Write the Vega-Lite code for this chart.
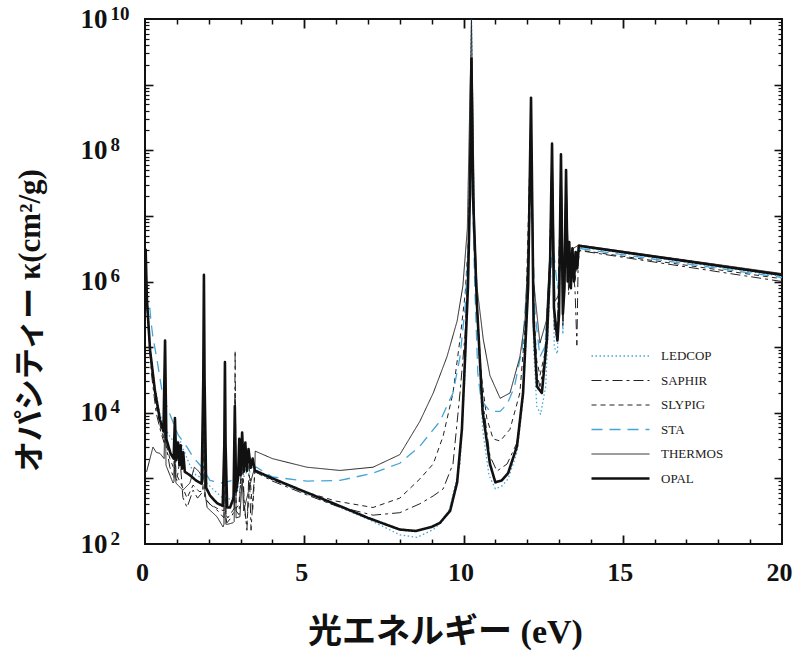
{
  "$schema": "https://vega.github.io/schema/vega-lite/v6.json",
  "width": 637,
  "height": 525,
  "autosize": {"type": "none"},
  "padding": {"left": 145, "top": 19, "right": 12, "bottom": 112},
  "background": "white",
  "config": {
    "view": {"stroke": "#111", "strokeWidth": 2},
    "axis": {"labelColor": "#111", "titleColor": "#111", "tickColor": "#111", "grid": false, "domain": false},
    "legend": {"orient": "none", "legendX": 445, "legendY": 329, "title": null, "symbolType": "stroke", "symbolSize": 3364, "clipHeight": 16,
      "labelFont": "Liberation Serif", "labelFontSize": 13, "labelColor": "#222", "labelOffset": 10, "rowPadding": 8.5}
  },
  "datasets": {
    "anchor": [{"x": 0, "y": 100}],
    "curves": [
      {"m":"LEDCOP","x":0.02,"y":2.0e6},{"m":"LEDCOP","x":0.16,"y":1.0e5},{"m":"LEDCOP","x":0.31,"y":2.5e4},{"m":"LEDCOP","x":0.47,"y":9.5e3},{"m":"LEDCOP","x":0.6,"y":6.0e3},{"m":"LEDCOP","x":0.63,"y":4.0e4},{"m":"LEDCOP","x":0.66,"y":5.5e3},{"m":"LEDCOP","x":0.8,"y":4.2e3},{"m":"LEDCOP","x":0.94,"y":3.5e3},{"m":"LEDCOP","x":1.1,"y":3.8e3},{"m":"LEDCOP","x":1.2,"y":2.8e3},{"m":"LEDCOP","x":1.41,"y":1.58e3},{"m":"LEDCOP","x":1.6,"y":1.12e3},{"m":"LEDCOP","x":1.82,"y":1.0e3},{"m":"LEDCOP","x":1.85,"y":1.0e6},{"m":"LEDCOP","x":1.88,"y":9.0e2},{"m":"LEDCOP","x":2.1,"y":7.1e2},{"m":"LEDCOP","x":2.4,"y":5.2e2},{"m":"LEDCOP","x":2.48,"y":5.0e2},{"m":"LEDCOP","x":2.51,"y":4.0e4},{"m":"LEDCOP","x":2.54,"y":5.0e2},{"m":"LEDCOP","x":2.7,"y":4.8e2},{"m":"LEDCOP","x":2.8,"y":5.6e2},{"m":"LEDCOP","x":2.83,"y":1.0e4},{"m":"LEDCOP","x":2.86,"y":5.6e2},{"m":"LEDCOP","x":3.0,"y":8.9e2},{"m":"LEDCOP","x":3.2,"y":1.26e3},{"m":"LEDCOP","x":3.45,"y":1.26e3},{"m":"LEDCOP","x":4.0,"y":9.5e2},{"m":"LEDCOP","x":5.0,"y":6.0e2},{"m":"LEDCOP","x":6.0,"y":3.8e2},{"m":"LEDCOP","x":7.0,"y":2.4e2},{"m":"LEDCOP","x":8.0,"y":1.38e2},{"m":"LEDCOP","x":8.54,"y":1.26e2},{"m":"LEDCOP","x":9.05,"y":1.66e2},{"m":"LEDCOP","x":9.4,"y":2.4e2},{"m":"LEDCOP","x":9.58,"y":3.6e2},{"m":"LEDCOP","x":9.89,"y":1.66e3},{"m":"LEDCOP","x":10.05,"y":4.0e4},{"m":"LEDCOP","x":10.15,"y":1.58e6},{"m":"LEDCOP","x":10.25,"y":1.0e10},{"m":"LEDCOP","x":10.35,"y":2.5e6},{"m":"LEDCOP","x":10.6,"y":5.6e3},{"m":"LEDCOP","x":10.8,"y":1.12e3},{"m":"LEDCOP","x":11.0,"y":6.9e2},{"m":"LEDCOP","x":11.2,"y":7.6e2},{"m":"LEDCOP","x":11.4,"y":9.8e2},{"m":"LEDCOP","x":11.68,"y":2.5e3},{"m":"LEDCOP","x":11.87,"y":1.58e4},{"m":"LEDCOP","x":12.03,"y":6.3e5},{"m":"LEDCOP","x":12.12,"y":5.0e8},{"m":"LEDCOP","x":12.2,"y":1.0e5},{"m":"LEDCOP","x":12.3,"y":1.26e4},{"m":"LEDCOP","x":12.42,"y":9.5e3},{"m":"LEDCOP","x":12.58,"y":2.5e4},{"m":"LEDCOP","x":12.72,"y":1.0e6},{"m":"LEDCOP","x":12.78,"y":1.0e8},{"m":"LEDCOP","x":12.85,"y":1.0e5},{"m":"LEDCOP","x":12.95,"y":7.9e4},{"m":"LEDCOP","x":13.06,"y":6.3e7},{"m":"LEDCOP","x":13.12,"y":1.58e5},{"m":"LEDCOP","x":13.22,"y":3.2e7},{"m":"LEDCOP","x":13.3,"y":1.0e6},{"m":"LEDCOP","x":13.45,"y":2.0e6},{"m":"LEDCOP","x":13.62,"y":3.4e6},{"m":"LEDCOP","x":20,"y":1.2e6},

      {"m":"SAPHIR","x":0.02,"y":1.58e6},{"m":"SAPHIR","x":0.1,"y":2.5e5},{"m":"SAPHIR","x":0.2,"y":4.0e4},{"m":"SAPHIR","x":0.35,"y":1.0e4},{"m":"SAPHIR","x":0.5,"y":5.0e3},{"m":"SAPHIR","x":0.6,"y":3.5e3},{"m":"SAPHIR","x":0.63,"y":6.3e4},{"m":"SAPHIR","x":0.66,"y":3.2e3},{"m":"SAPHIR","x":0.78,"y":1.48e3},{"m":"SAPHIR","x":0.91,"y":1.0e3},{"m":"SAPHIR","x":0.94,"y":5.0e3},{"m":"SAPHIR","x":0.97,"y":1.0e3},{"m":"SAPHIR","x":1.0,"y":9.3e2},{"m":"SAPHIR","x":1.1,"y":2.0e3},{"m":"SAPHIR","x":1.19,"y":5.1e2},{"m":"SAPHIR","x":1.32,"y":3.6e2},{"m":"SAPHIR","x":1.51,"y":6.6e2},{"m":"SAPHIR","x":1.65,"y":5.0e2},{"m":"SAPHIR","x":1.82,"y":6.3e2},{"m":"SAPHIR","x":1.85,"y":1.0e6},{"m":"SAPHIR","x":1.88,"y":5.0e2},{"m":"SAPHIR","x":2.0,"y":4.2e2},{"m":"SAPHIR","x":2.26,"y":3.3e2},{"m":"SAPHIR","x":2.48,"y":2.5e2},{"m":"SAPHIR","x":2.51,"y":4.0e4},{"m":"SAPHIR","x":2.54,"y":2.5e2},{"m":"SAPHIR","x":2.57,"y":2.1e2},{"m":"SAPHIR","x":2.7,"y":2.5e2},{"m":"SAPHIR","x":2.8,"y":3.2e2},{"m":"SAPHIR","x":2.83,"y":8.9e4},{"m":"SAPHIR","x":2.86,"y":3.2e2},{"m":"SAPHIR","x":2.95,"y":2.8e2},{"m":"SAPHIR","x":3.05,"y":2.5e3},{"m":"SAPHIR","x":3.12,"y":4.0e2},{"m":"SAPHIR","x":3.2,"y":1.62e2},{"m":"SAPHIR","x":3.27,"y":1.58e3},{"m":"SAPHIR","x":3.33,"y":1.62e2},{"m":"SAPHIR","x":3.4,"y":6.3e2},{"m":"SAPHIR","x":3.45,"y":1.26e3},{"m":"SAPHIR","x":4.0,"y":9.1e2},{"m":"SAPHIR","x":5.0,"y":5.8e2},{"m":"SAPHIR","x":6.0,"y":3.8e2},{"m":"SAPHIR","x":7.16,"y":2.75e2},{"m":"SAPHIR","x":8.0,"y":3.0e2},{"m":"SAPHIR","x":8.63,"y":4.1e2},{"m":"SAPHIR","x":9.05,"y":5.4e2},{"m":"SAPHIR","x":9.36,"y":6.9e2},{"m":"SAPHIR","x":9.67,"y":1.66e3},{"m":"SAPHIR","x":9.89,"y":2.0e4},{"m":"SAPHIR","x":10.05,"y":1.58e5},{"m":"SAPHIR","x":10.15,"y":2.0e6},{"m":"SAPHIR","x":10.25,"y":1.0e9},{"m":"SAPHIR","x":10.35,"y":2.0e6},{"m":"SAPHIR","x":10.6,"y":1.58e4},{"m":"SAPHIR","x":10.83,"y":2.2e3},{"m":"SAPHIR","x":11.05,"y":1.29e3},{"m":"SAPHIR","x":11.37,"y":1.66e3},{"m":"SAPHIR","x":11.68,"y":3.5e3},{"m":"SAPHIR","x":11.87,"y":2.0e4},{"m":"SAPHIR","x":12.03,"y":7.9e5},{"m":"SAPHIR","x":12.12,"y":4.0e8},{"m":"SAPHIR","x":12.2,"y":3.2e5},{"m":"SAPHIR","x":12.3,"y":4.0e4},{"m":"SAPHIR","x":12.4,"y":2.5e4},{"m":"SAPHIR","x":12.55,"y":6.3e4},{"m":"SAPHIR","x":12.7,"y":1.58e6},{"m":"SAPHIR","x":12.78,"y":1.12e8},{"m":"SAPHIR","x":12.85,"y":2.0e5},{"m":"SAPHIR","x":12.95,"y":1.26e5},{"m":"SAPHIR","x":13.06,"y":7.9e7},{"m":"SAPHIR","x":13.12,"y":2.0e5},{"m":"SAPHIR","x":13.22,"y":4.0e7},{"m":"SAPHIR","x":13.3,"y":6.3e5},{"m":"SAPHIR","x":13.4,"y":2.0e6},{"m":"SAPHIR","x":13.5,"y":7.9e5},{"m":"SAPHIR","x":13.56,"y":1.07e5},{"m":"SAPHIR","x":13.6,"y":2.0e6},{"m":"SAPHIR","x":13.65,"y":2.95e6},{"m":"SAPHIR","x":20,"y":1.0e6},

      {"m":"SLYPIG","x":0.02,"y":1.0e6},{"m":"SLYPIG","x":0.1,"y":2.0e5},{"m":"SLYPIG","x":0.2,"y":5.0e4},{"m":"SLYPIG","x":0.35,"y":1.26e4},{"m":"SLYPIG","x":0.5,"y":5.6e3},{"m":"SLYPIG","x":0.6,"y":4.0e3},{"m":"SLYPIG","x":0.63,"y":4.0e4},{"m":"SLYPIG","x":0.66,"y":3.5e3},{"m":"SLYPIG","x":0.78,"y":2.0e3},{"m":"SLYPIG","x":0.91,"y":1.4e3},{"m":"SLYPIG","x":0.94,"y":6.3e3},{"m":"SLYPIG","x":0.97,"y":1.26e3},{"m":"SLYPIG","x":1.0,"y":1.12e3},{"m":"SLYPIG","x":1.19,"y":7.1e2},{"m":"SLYPIG","x":1.32,"y":5.0e2},{"m":"SLYPIG","x":1.51,"y":7.9e2},{"m":"SLYPIG","x":1.7,"y":6.3e2},{"m":"SLYPIG","x":1.82,"y":6.3e2},{"m":"SLYPIG","x":1.85,"y":7.9e5},{"m":"SLYPIG","x":1.88,"y":5.0e2},{"m":"SLYPIG","x":2.05,"y":4.0e2},{"m":"SLYPIG","x":2.26,"y":3.5e2},{"m":"SLYPIG","x":2.48,"y":3.2e2},{"m":"SLYPIG","x":2.51,"y":3.2e4},{"m":"SLYPIG","x":2.54,"y":2.8e2},{"m":"SLYPIG","x":2.6,"y":2.5e2},{"m":"SLYPIG","x":2.75,"y":3.2e2},{"m":"SLYPIG","x":2.8,"y":3.5e2},{"m":"SLYPIG","x":2.83,"y":2.0e4},{"m":"SLYPIG","x":2.86,"y":3.5e2},{"m":"SLYPIG","x":2.95,"y":4.0e2},{"m":"SLYPIG","x":3.05,"y":2.0e3},{"m":"SLYPIG","x":3.12,"y":3.2e2},{"m":"SLYPIG","x":3.2,"y":2.0e2},{"m":"SLYPIG","x":3.3,"y":1.0e3},{"m":"SLYPIG","x":3.38,"y":3.2e2},{"m":"SLYPIG","x":3.45,"y":1.32e3},{"m":"SLYPIG","x":4.0,"y":9.5e2},{"m":"SLYPIG","x":5.0,"y":6.3e2},{"m":"SLYPIG","x":6.0,"y":4.5e2},{"m":"SLYPIG","x":7.16,"y":3.6e2},{"m":"SLYPIG","x":8.0,"y":5.0e2},{"m":"SLYPIG","x":8.63,"y":9.8e2},{"m":"SLYPIG","x":9.05,"y":1.66e3},{"m":"SLYPIG","x":9.36,"y":4.4e3},{"m":"SLYPIG","x":9.67,"y":2.0e4},{"m":"SLYPIG","x":9.89,"y":1.32e5},{"m":"SLYPIG","x":10.05,"y":6.3e5},{"m":"SLYPIG","x":10.15,"y":4.0e6},{"m":"SLYPIG","x":10.25,"y":6.3e8},{"m":"SLYPIG","x":10.35,"y":4.0e6},{"m":"SLYPIG","x":10.5,"y":6.3e4},{"m":"SLYPIG","x":10.73,"y":8.3e3},{"m":"SLYPIG","x":10.93,"y":4.0e3},{"m":"SLYPIG","x":11.15,"y":3.7e3},{"m":"SLYPIG","x":11.46,"y":5.6e3},{"m":"SLYPIG","x":11.77,"y":2.0e4},{"m":"SLYPIG","x":11.95,"y":2.5e5},{"m":"SLYPIG","x":12.12,"y":3.2e8},{"m":"SLYPIG","x":12.2,"y":4.0e5},{"m":"SLYPIG","x":12.3,"y":6.3e4},{"m":"SLYPIG","x":12.4,"y":3.7e4},{"m":"SLYPIG","x":12.55,"y":7.9e4},{"m":"SLYPIG","x":12.7,"y":1.58e6},{"m":"SLYPIG","x":12.78,"y":7.9e7},{"m":"SLYPIG","x":12.85,"y":2.5e5},{"m":"SLYPIG","x":12.95,"y":1.58e5},{"m":"SLYPIG","x":13.06,"y":5.0e7},{"m":"SLYPIG","x":13.12,"y":2.5e5},{"m":"SLYPIG","x":13.22,"y":3.2e7},{"m":"SLYPIG","x":13.3,"y":7.9e5},{"m":"SLYPIG","x":13.4,"y":1.58e6},{"m":"SLYPIG","x":13.5,"y":1.0e6},{"m":"SLYPIG","x":13.6,"y":2.8e6},{"m":"SLYPIG","x":13.65,"y":3.0e6},{"m":"SLYPIG","x":20,"y":1.1e6},

      {"m":"STA","x":0.15,"y":4.0e5},{"m":"STA","x":0.19,"y":2.4e5},{"m":"STA","x":0.25,"y":1.41e5},{"m":"STA","x":0.38,"y":6.3e4},{"m":"STA","x":0.53,"y":2.2e4},{"m":"STA","x":0.69,"y":1.23e4},{"m":"STA","x":0.85,"y":7.8e3},{"m":"STA","x":1.04,"y":4.6e3},{"m":"STA","x":1.32,"y":3.0e3},{"m":"STA","x":1.51,"y":2.1e3},{"m":"STA","x":1.79,"y":1.48e3},{"m":"STA","x":2.04,"y":9.3e2},{"m":"STA","x":2.42,"y":8.5e2},{"m":"STA","x":2.73,"y":9.3e2},{"m":"STA","x":2.98,"y":1.23e3},{"m":"STA","x":3.3,"y":1.45e3},{"m":"STA","x":3.5,"y":1.48e3},{"m":"STA","x":4.0,"y":1.05e3},{"m":"STA","x":5.08,"y":9.1e2},{"m":"STA","x":6.12,"y":9.3e2},{"m":"STA","x":7.16,"y":1.2e3},{"m":"STA","x":8.0,"y":1.7e3},{"m":"STA","x":8.63,"y":3.1e3},{"m":"STA","x":9.26,"y":7.4e3},{"m":"STA","x":9.67,"y":2.0e4},{"m":"STA","x":9.89,"y":7.1e4},{"m":"STA","x":10.05,"y":4.0e5},{"m":"STA","x":10.15,"y":3.2e6},{"m":"STA","x":10.25,"y":1.0e8},{"m":"STA","x":10.35,"y":1.0e6},{"m":"STA","x":10.45,"y":4.0e4},{"m":"STA","x":10.55,"y":1.58e4},{"m":"STA","x":10.83,"y":1.05e4},{"m":"STA","x":11.15,"y":1.05e4},{"m":"STA","x":11.37,"y":1.35e4},{"m":"STA","x":11.6,"y":2.5e4},{"m":"STA","x":11.85,"y":1.0e5},{"m":"STA","x":12.0,"y":1.0e6},{"m":"STA","x":12.12,"y":3.2e7},{"m":"STA","x":12.25,"y":3.2e5},{"m":"STA","x":12.4,"y":7.1e4},{"m":"STA","x":12.55,"y":1.0e5},{"m":"STA","x":12.7,"y":6.3e5},{"m":"STA","x":12.8,"y":4.0e6},{"m":"STA","x":12.95,"y":7.9e5},{"m":"STA","x":13.1,"y":2.5e6},{"m":"STA","x":13.25,"y":1.58e6},{"m":"STA","x":13.45,"y":2.5e6},{"m":"STA","x":13.62,"y":3.2e6},{"m":"STA","x":20,"y":1.15e6},

      {"m":"THERMOS","x":0.05,"y":1.26e3},{"m":"THERMOS","x":0.25,"y":3.0e3},{"m":"THERMOS","x":0.35,"y":2.5e3},{"m":"THERMOS","x":0.47,"y":2.4e3},{"m":"THERMOS","x":0.6,"y":2.0e3},{"m":"THERMOS","x":0.63,"y":1.58e4},{"m":"THERMOS","x":0.66,"y":1.58e3},{"m":"THERMOS","x":0.88,"y":8.5e2},{"m":"THERMOS","x":0.91,"y":9.0e2},{"m":"THERMOS","x":0.94,"y":2.5e3},{"m":"THERMOS","x":0.97,"y":8.5e2},{"m":"THERMOS","x":1.19,"y":6.6e2},{"m":"THERMOS","x":1.41,"y":8.5e2},{"m":"THERMOS","x":1.55,"y":1.48e3},{"m":"THERMOS","x":1.7,"y":1.26e3},{"m":"THERMOS","x":1.82,"y":1.0e3},{"m":"THERMOS","x":1.85,"y":3.2e5},{"m":"THERMOS","x":1.88,"y":6.3e2},{"m":"THERMOS","x":1.95,"y":3.6e2},{"m":"THERMOS","x":2.26,"y":2.6e2},{"m":"THERMOS","x":2.45,"y":1.82e2},{"m":"THERMOS","x":2.48,"y":2.0e2},{"m":"THERMOS","x":2.51,"y":2.0e4},{"m":"THERMOS","x":2.54,"y":2.0e2},{"m":"THERMOS","x":2.6,"y":2.0e2},{"m":"THERMOS","x":2.76,"y":2.1e2},{"m":"THERMOS","x":2.8,"y":2.2e2},{"m":"THERMOS","x":2.83,"y":1.0e4},{"m":"THERMOS","x":2.86,"y":2.5e2},{"m":"THERMOS","x":2.98,"y":2.6e2},{"m":"THERMOS","x":3.05,"y":1.0e3},{"m":"THERMOS","x":3.1,"y":3.2e2},{"m":"THERMOS","x":3.2,"y":5.1e2},{"m":"THERMOS","x":3.36,"y":1.05e3},{"m":"THERMOS","x":3.45,"y":1.48e3},{"m":"THERMOS","x":3.46,"y":2.6e3},{"m":"THERMOS","x":4.0,"y":2.0e3},{"m":"THERMOS","x":5.08,"y":1.48e3},{"m":"THERMOS","x":6.12,"y":1.32e3},{"m":"THERMOS","x":7.16,"y":1.48e3},{"m":"THERMOS","x":8.0,"y":2.3e3},{"m":"THERMOS","x":8.63,"y":7.4e3},{"m":"THERMOS","x":9.05,"y":2.0e4},{"m":"THERMOS","x":9.48,"y":7.1e4},{"m":"THERMOS","x":9.8,"y":2.5e5},{"m":"THERMOS","x":9.98,"y":8.5e5},{"m":"THERMOS","x":10.12,"y":6.3e6},{"m":"THERMOS","x":10.25,"y":1.0e10},{"m":"THERMOS","x":10.35,"y":6.3e6},{"m":"THERMOS","x":10.42,"y":8.5e5},{"m":"THERMOS","x":10.62,"y":1.32e5},{"m":"THERMOS","x":10.83,"y":3.7e4},{"m":"THERMOS","x":11.15,"y":1.66e4},{"m":"THERMOS","x":11.46,"y":2.0e4},{"m":"THERMOS","x":11.77,"y":7.1e4},{"m":"THERMOS","x":11.93,"y":2.5e5},{"m":"THERMOS","x":12.03,"y":3.0e6},{"m":"THERMOS","x":12.12,"y":6.3e8},{"m":"THERMOS","x":12.2,"y":1.0e6},{"m":"THERMOS","x":12.4,"y":1.15e5},{"m":"THERMOS","x":12.6,"y":2.5e5},{"m":"THERMOS","x":12.72,"y":3.2e6},{"m":"THERMOS","x":12.78,"y":1.26e8},{"m":"THERMOS","x":12.87,"y":5.0e5},{"m":"THERMOS","x":13.0,"y":6.3e5},{"m":"THERMOS","x":13.06,"y":7.9e7},{"m":"THERMOS","x":13.14,"y":7.9e5},{"m":"THERMOS","x":13.22,"y":4.0e7},{"m":"THERMOS","x":13.3,"y":1.58e6},{"m":"THERMOS","x":13.45,"y":3.2e6},{"m":"THERMOS","x":13.62,"y":3.6e6},{"m":"THERMOS","x":20,"y":1.32e6},

      {"m":"OPAL","x":0.02,"y":3.16e6},{"m":"OPAL","x":0.06,"y":5.25e5},{"m":"OPAL","x":0.16,"y":8.9e4},{"m":"OPAL","x":0.31,"y":2.19e4},{"m":"OPAL","x":0.47,"y":7.8e3},{"m":"OPAL","x":0.58,"y":5.2e3},{"m":"OPAL","x":0.63,"y":1.26e5},{"m":"OPAL","x":0.67,"y":4.0e3},{"m":"OPAL","x":0.8,"y":2.4e3},{"m":"OPAL","x":0.9,"y":2.0e3},{"m":"OPAL","x":0.94,"y":8.3e3},{"m":"OPAL","x":0.98,"y":1.9e3},{"m":"OPAL","x":1.04,"y":3.5e3},{"m":"OPAL","x":1.08,"y":1.6e3},{"m":"OPAL","x":1.12,"y":3.2e3},{"m":"OPAL","x":1.16,"y":1.4e3},{"m":"OPAL","x":1.2,"y":2.5e3},{"m":"OPAL","x":1.25,"y":1.26e3},{"m":"OPAL","x":1.41,"y":1.12e3},{"m":"OPAL","x":1.6,"y":9.3e2},{"m":"OPAL","x":1.78,"y":8.3e2},{"m":"OPAL","x":1.83,"y":3.2e4},{"m":"OPAL","x":1.85,"y":1.26e6},{"m":"OPAL","x":1.87,"y":3.2e4},{"m":"OPAL","x":1.92,"y":7.2e2},{"m":"OPAL","x":2.04,"y":5.5e2},{"m":"OPAL","x":2.26,"y":4.2e2},{"m":"OPAL","x":2.44,"y":3.8e2},{"m":"OPAL","x":2.49,"y":3.2e3},{"m":"OPAL","x":2.51,"y":5.9e4},{"m":"OPAL","x":2.53,"y":3.2e3},{"m":"OPAL","x":2.58,"y":3.6e2},{"m":"OPAL","x":2.67,"y":3.6e2},{"m":"OPAL","x":2.78,"y":5.0e2},{"m":"OPAL","x":2.82,"y":1.26e4},{"m":"OPAL","x":2.86,"y":6.3e2},{"m":"OPAL","x":2.92,"y":1.0e3},{"m":"OPAL","x":2.96,"y":4.0e3},{"m":"OPAL","x":3.0,"y":1.12e3},{"m":"OPAL","x":3.05,"y":5.0e3},{"m":"OPAL","x":3.1,"y":1.26e3},{"m":"OPAL","x":3.15,"y":3.5e3},{"m":"OPAL","x":3.2,"y":1.3e3},{"m":"OPAL","x":3.25,"y":2.8e3},{"m":"OPAL","x":3.32,"y":1.45e3},{"m":"OPAL","x":3.38,"y":2.0e3},{"m":"OPAL","x":3.45,"y":1.32e3},{"m":"OPAL","x":4.0,"y":1.0e3},{"m":"OPAL","x":5.0,"y":6.3e2},{"m":"OPAL","x":6.0,"y":4.0e2},{"m":"OPAL","x":7.0,"y":2.5e2},{"m":"OPAL","x":8.0,"y":1.66e2},{"m":"OPAL","x":8.5,"y":1.58e2},{"m":"OPAL","x":9.0,"y":1.82e2},{"m":"OPAL","x":9.26,"y":2.1e2},{"m":"OPAL","x":9.58,"y":3.2e2},{"m":"OPAL","x":9.8,"y":8.7e2},{"m":"OPAL","x":9.95,"y":5.6e3},{"m":"OPAL","x":10.05,"y":7.1e4},{"m":"OPAL","x":10.14,"y":8.5e5},{"m":"OPAL","x":10.2,"y":2.0e7},{"m":"OPAL","x":10.25,"y":2.5e9},{"m":"OPAL","x":10.3,"y":2.0e7},{"m":"OPAL","x":10.42,"y":4.6e5},{"m":"OPAL","x":10.6,"y":1.05e4},{"m":"OPAL","x":10.83,"y":1.66e3},{"m":"OPAL","x":11.0,"y":8.7e2},{"m":"OPAL","x":11.2,"y":9.3e2},{"m":"OPAL","x":11.4,"y":1.2e3},{"m":"OPAL","x":11.68,"y":3.1e3},{"m":"OPAL","x":11.87,"y":2.0e4},{"m":"OPAL","x":12.03,"y":8.5e5},{"m":"OPAL","x":12.12,"y":6.3e8},{"m":"OPAL","x":12.2,"y":2.5e5},{"m":"OPAL","x":12.31,"y":2.5e4},{"m":"OPAL","x":12.46,"y":2.0e4},{"m":"OPAL","x":12.62,"y":1.32e5},{"m":"OPAL","x":12.72,"y":2.0e6},{"m":"OPAL","x":12.78,"y":1.26e8},{"m":"OPAL","x":12.84,"y":4.0e5},{"m":"OPAL","x":12.95,"y":1.26e5},{"m":"OPAL","x":13.0,"y":3.2e5},{"m":"OPAL","x":13.06,"y":8.7e7},{"m":"OPAL","x":13.12,"y":3.2e5},{"m":"OPAL","x":13.17,"y":7.9e5},{"m":"OPAL","x":13.22,"y":5.0e7},{"m":"OPAL","x":13.27,"y":1.0e6},{"m":"OPAL","x":13.32,"y":4.0e6},{"m":"OPAL","x":13.37,"y":7.9e5},{"m":"OPAL","x":13.42,"y":3.2e6},{"m":"OPAL","x":13.47,"y":1.0e6},{"m":"OPAL","x":13.52,"y":2.8e6},{"m":"OPAL","x":13.57,"y":1.58e6},{"m":"OPAL","x":13.62,"y":3.5e6},{"m":"OPAL","x":20,"y":1.26e6}
    ]
  },
  "layer": [
    {
      "data": {"name": "anchor"},
      "mark": {"type": "point", "opacity": 0},
      "encoding": {
        "x": {"field": "x", "type": "quantitative", "scale": {"domain": [0, 20]},
          "axis": {"orient": "bottom", "values": [1,2,3,4,6,7,8,9,11,12,13,14,16,17,18,19], "labels": false, "tickSize": -5, "tickWidth": 1.5, "title": null}},
        "y": {"field": "y", "type": "quantitative", "scale": {"type": "log", "domain": [100, 1e10]},
          "axis": {"orient": "left", "values": [200,300,400,500,600,700,800,900,2000,3000,4000,5000,6000,7000,8000,9000,2e4,3e4,4e4,5e4,6e4,7e4,8e4,9e4,2e5,3e5,4e5,5e5,6e5,7e5,8e5,9e5,2e6,3e6,4e6,5e6,6e6,7e6,8e6,9e6,2e7,3e7,4e7,5e7,6e7,7e7,8e7,9e7,2e8,3e8,4e8,5e8,6e8,7e8,8e8,9e8,2e9,3e9,4e9,5e9,6e9,7e9,8e9,9e9], "labels": false, "tickSize": -4, "tickWidth": 1.2, "title": null}}
      }
    },
    {
      "data": {"name": "anchor"},
      "mark": {"type": "point", "opacity": 0},
      "encoding": {
        "x": {"field": "x", "type": "quantitative", "scale": {"domain": [0, 20]},
          "axis": {"orient": "bottom", "values": [5, 10, 15], "labels": false, "tickSize": -9, "tickWidth": 1.8, "title": null}},
        "y": {"field": "y", "type": "quantitative", "scale": {"type": "log", "domain": [100, 1e10]},
          "axis": {"orient": "left", "values": [1000, 1e4, 1e5, 1e6, 1e7, 1e8, 1e9], "labels": false, "tickSize": -8, "tickWidth": 1.6, "title": null}}
      }
    },
    {
      "data": {"name": "anchor"},
      "mark": {"type": "point", "opacity": 0},
      "encoding": {
        "x": {"field": "x", "type": "quantitative", "scale": {"domain": [0, 20]},
          "axis": {"orient": "top", "values": [1,2,3,4,6,7,8,9,11,12,13,14,16,17,18,19], "labels": false, "tickSize": -5, "tickWidth": 1.5, "title": null}},
        "y": {"field": "y", "type": "quantitative", "scale": {"type": "log", "domain": [100, 1e10]},
          "axis": {"orient": "right", "values": [200,300,400,500,600,700,800,900,2000,3000,4000,5000,6000,7000,8000,9000,2e4,3e4,4e4,5e4,6e4,7e4,8e4,9e4,2e5,3e5,4e5,5e5,6e5,7e5,8e5,9e5,2e6,3e6,4e6,5e6,6e6,7e6,8e6,9e6,2e7,3e7,4e7,5e7,6e7,7e7,8e7,9e7,2e8,3e8,4e8,5e8,6e8,7e8,8e8,9e8,2e9,3e9,4e9,5e9,6e9,7e9,8e9,9e9], "labels": false, "tickSize": -4, "tickWidth": 1.2, "title": null}}
      }
    },
    {
      "data": {"name": "anchor"},
      "mark": {"type": "point", "opacity": 0},
      "encoding": {
        "x": {"field": "x", "type": "quantitative", "scale": {"domain": [0, 20]},
          "axis": {"orient": "top", "values": [5, 10, 15], "labels": false, "tickSize": -9, "tickWidth": 1.8, "title": null}},
        "y": {"field": "y", "type": "quantitative", "scale": {"type": "log", "domain": [100, 1e10]},
          "axis": {"orient": "right", "values": [1000, 1e4, 1e5, 1e6, 1e7, 1e8, 1e9], "labels": false, "tickSize": -8, "tickWidth": 1.6, "title": null}}
      }
    },
    {
      "data": {"name": "anchor"},
      "mark": {"type": "point", "opacity": 0},
      "encoding": {
        "y": {"field": "y", "type": "quantitative", "scale": {"type": "log", "domain": [100, 1e10]},
          "axis": {"orient": "left", "values": [100, 1e4, 1e6, 1e8, 1e10], "ticks": false, "labelOverlap": false,
            "labelExpr": "datum.value < 1e3 ? '2' : datum.value < 1e5 ? '4' : datum.value < 1e7 ? '6' : datum.value < 1e9 ? '8' : '10'",
            "labelAlign": "left", "labelBaseline": "middle", "labelPadding": 35, "labelOffset": -6,
            "labelFont": "Liberation Serif", "labelFontSize": 19, "labelFontWeight": "bold", "title": null}}
      }
    },
    {
      "data": {"name": "curves"},
      "mark": {"type": "line", "clip": true, "strokeJoin": "round", "strokeCap": "butt"},
      "encoding": {
        "x": {"field": "x", "type": "quantitative", "scale": {"domain": [0, 20]},
          "axis": {"orient": "bottom", "values": [0, 5, 10, 15, 20], "ticks": false, "labelFlush": false, "labelOverlap": false, "labelOffset": -3,
            "labelFont": "Liberation Serif", "labelFontSize": 26, "labelFontWeight": "bold", "labelPadding": 15,
            "title": "光エネルギー (eV)", "titleFont": "Liberation Serif, Noto Sans CJK JP", "titleFontSize": 34, "titleFontWeight": "bold",
            "titleX": 300, "titleY": 88, "titleAlign": "center", "titleBaseline": "middle"}},
        "y": {"field": "y", "type": "quantitative", "scale": {"type": "log", "domain": [100, 1e10]},
          "axis": {"orient": "left", "values": [100, 1e4, 1e6, 1e8, 1e10], "ticks": false, "labelOverlap": false,
            "labelExpr": "'10'",
            "labelAlign": "left", "labelBaseline": "middle", "labelPadding": 65,
            "labelFont": "Liberation Serif", "labelFontSize": 27, "labelFontWeight": "bold",
            "title": "オパシティー κ(cm²/g)", "titleFont": "Liberation Serif, Noto Sans CJK JP", "titleFontSize": 31, "titleFontWeight": "bold",
            "titleAngle": -90, "titleX": -115, "titleY": 301, "titleAlign": "center", "titleBaseline": "middle"}},
        "color": {"field": "m", "type": "nominal",
          "scale": {"domain": ["LEDCOP", "SAPHIR", "SLYPIG", "STA", "THERMOS", "OPAL"], "range": ["#45a5d8", "#222222", "#222222", "#45a5d8", "#222222", "#111111"]}},
        "strokeDash": {"field": "m", "type": "nominal",
          "scale": {"domain": ["LEDCOP", "SAPHIR", "SLYPIG", "STA", "THERMOS", "OPAL"], "range": [[1.5, 2.5], [10, 4, 3, 4], [5, 4], [11, 7], [1, 0], [1, 0]]}},
        "strokeWidth": {"field": "m", "type": "nominal",
          "scale": {"type": "ordinal", "domain": ["LEDCOP", "SAPHIR", "SLYPIG", "STA", "THERMOS", "OPAL"], "range": [1.3, 1, 1, 1.3, 1, 2.6]}}
      }
    }
  ],
  "resolve": {"axis": {"x": "independent", "y": "independent"}}
}
